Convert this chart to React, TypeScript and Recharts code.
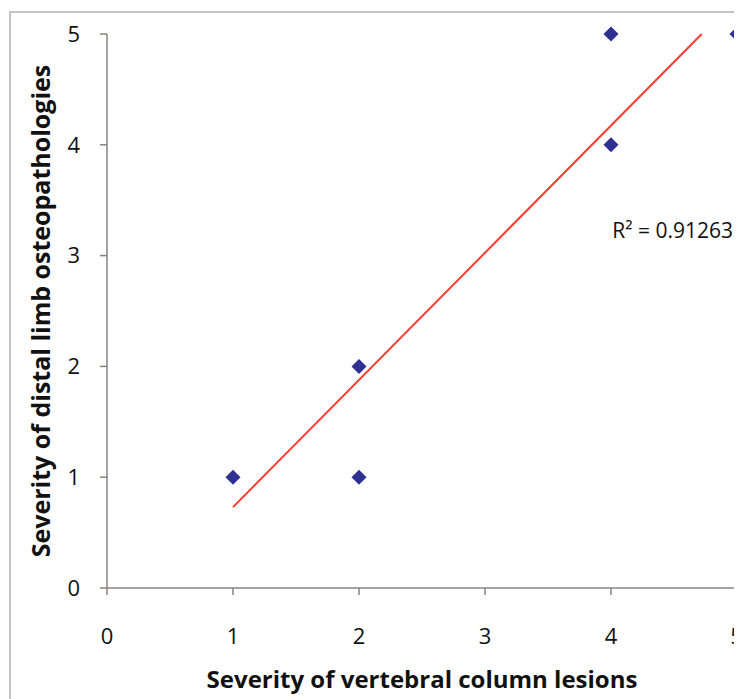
import React from 'react';
import { ScatterChart, Scatter, XAxis, YAxis, ReferenceDot } from 'recharts';

// severity scores
const vertebral = [1, 2, 2, 4, 4, 5];
const distal = [1, 2, 1, 5, 4, 5];

// linear trend line end points
const trendX = [1, 4.72];
const trendY = [0.73, 5];

const xTicks = [0, 1, 2, 3, 4, 5];
const yTicks = [0, 1, 2, 3, 4, 5];

const rSquared = 'R² = 0.91263';

const points = vertebral.map((x, i) => ({ x, y: distal[i] }));
const trend = trendX.map((x, i) => ({ x, y: trendY[i] }));

const font = '"Open Sans", sans-serif';
const axisColor = '#8a837d';

function Diamond(props: any) {
  const { cx, cy } = props;
  const r = 7.5;
  return (
    <polygon
      points={`${cx},${cy - r} ${cx + r},${cy} ${cx},${cy + r} ${cx - r},${cy}`}
      fill="#2e3192"
    />
  );
}

export default function App() {
  return (
    <div style={{ position: 'relative', width: 734, height: 691, overflow: 'hidden', background: '#fff' }}>
      <div
        style={{
          position: 'absolute',
          left: 1,
          top: 3,
          width: 900,
          height: 900,
          border: '2px solid #c4c4c4',
        }}
      />
      <div style={{ position: 'absolute', left: 0, top: 0 }}>
        <ScatterChart width={734} height={691} margin={{ top: 26, right: 5, bottom: 0, left: 0 }}>
          <XAxis
            type="number"
            dataKey="x"
            domain={[0, 5]}
            ticks={xTicks}
            height={111}
            tickSize={7}
            tickMargin={33}
            stroke={axisColor}
            strokeWidth={1.5}
            tick={{ fill: '#111', fontSize: 22, fontFamily: font }}
            label={{
              content: ({ viewBox }: any) => (
                <text
                  x={viewBox.x + viewBox.width / 2}
                  y={viewBox.y + viewBox.height - 11}
                  textAnchor="middle"
                  fontSize={24}
                  fontWeight="bold"
                  fontFamily={font}
                  fill="#111"
                >
                  Severity of vertebral column lesions
                </text>
              ),
            }}
          />
          <YAxis
            type="number"
            dataKey="y"
            domain={[0, 5]}
            ticks={yTicks}
            width={99}
            tickSize={7}
            tickMargin={20}
            stroke={axisColor}
            strokeWidth={1.5}
            tick={{ fill: '#111', fontSize: 22, fontFamily: font }}
            label={{
              content: ({ viewBox }: any) => {
                const cx = 32;
                const cy = viewBox.y + viewBox.height / 2;
                return (
                  <text
                    x={cx}
                    y={cy}
                    transform={`rotate(-90, ${cx}, ${cy})`}
                    textAnchor="middle"
                    dominantBaseline="central"
                    fontSize={25}
                    fontWeight="bold"
                    fontFamily={font}
                    fill="#111"
                  >
                    Severity of distal limb osteopathologies
                  </text>
                );
              },
            }}
          />
          <Scatter
            data={trend}
            line={{ stroke: '#ff3b30', strokeWidth: 2 }}
            shape={() => <g />}
            isAnimationActive={false}
          />
          <Scatter data={points} shape={Diamond} isAnimationActive={false} />
          <ReferenceDot
            x={4.01}
            y={3.23}
            r={0}
            stroke="none"
            label={{ value: rSquared, position: 'right', offset: 0, fontSize: 21, fill: '#111', fontFamily: font }}
          />
        </ScatterChart>
      </div>
    </div>
  );
}
